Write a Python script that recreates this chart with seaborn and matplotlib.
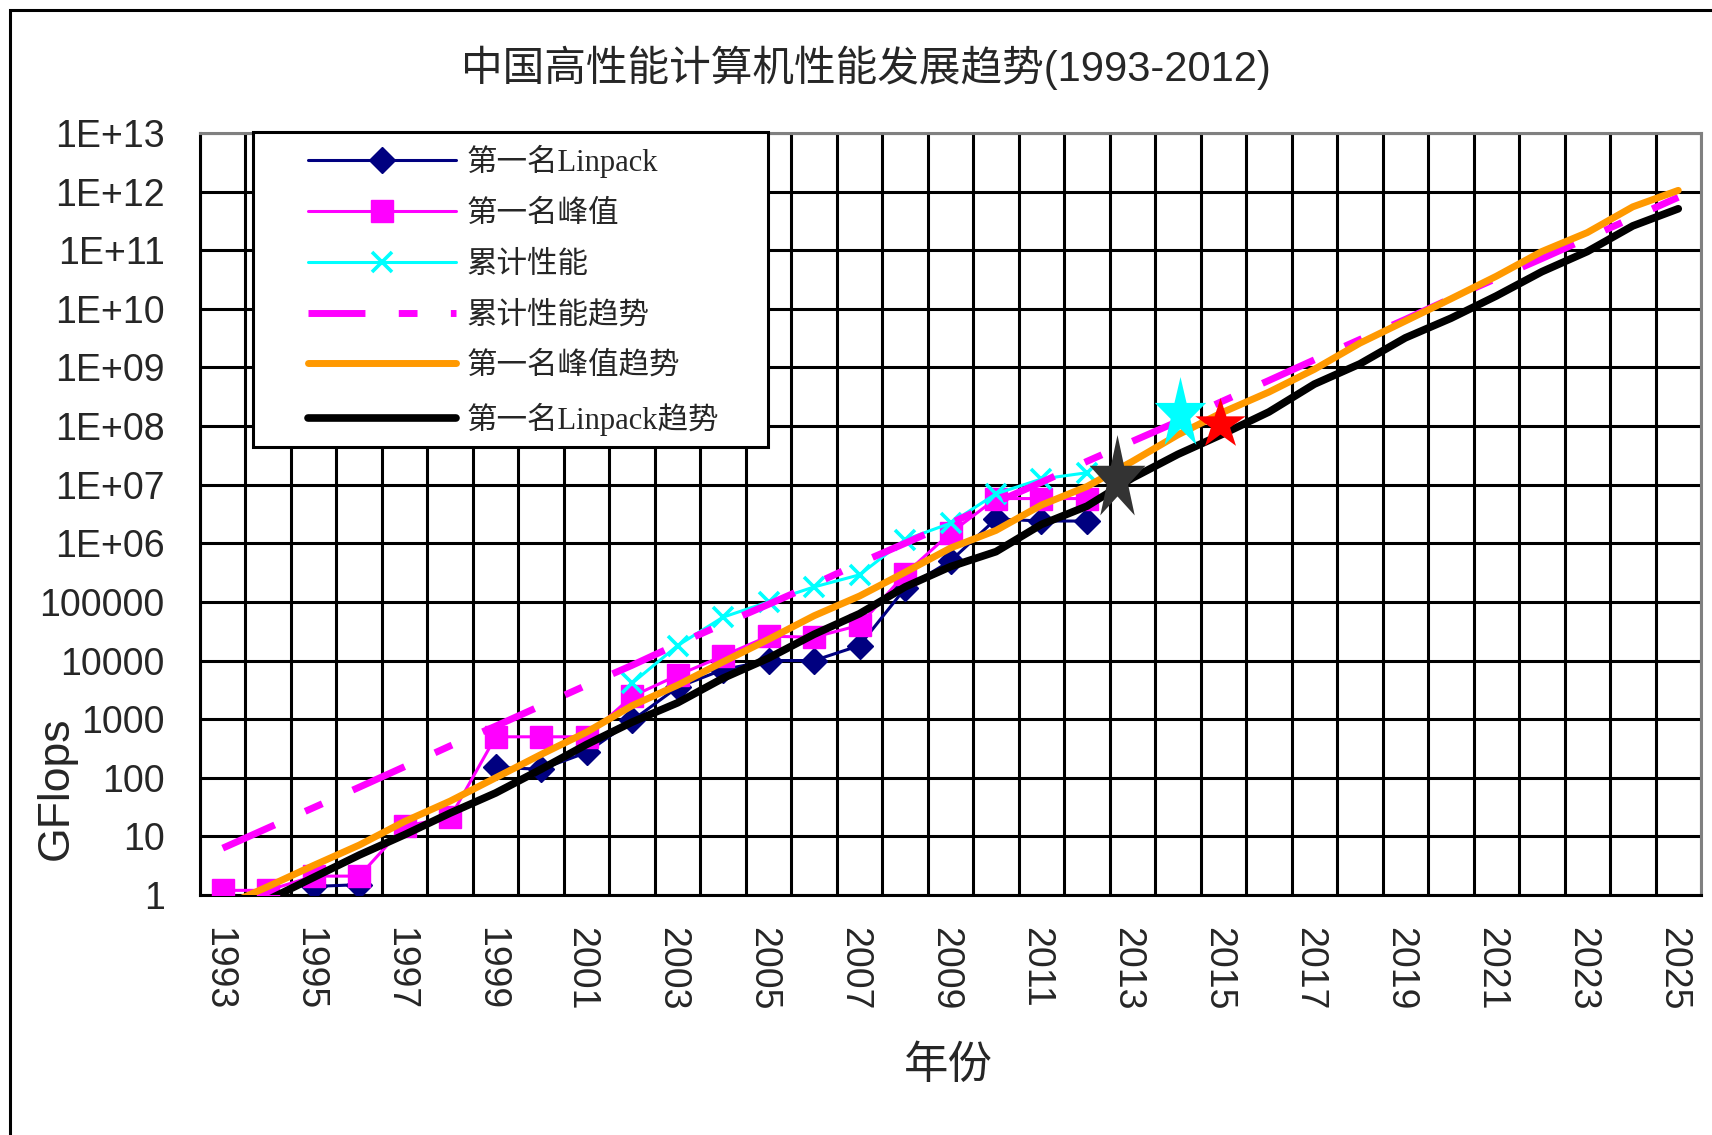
import numpy as np
import pandas as pd
import matplotlib
matplotlib.use("Agg")
import matplotlib.pyplot as plt
import matplotlib.transforms as mtransforms
from matplotlib.lines import Line2D
from matplotlib.patches import Rectangle
from matplotlib.path import Path
from matplotlib.markers import MarkerStyle
from matplotlib.font_manager import FontProperties
import seaborn as sns

nan = np.nan

# ---------------- data ----------------
years = list(range(1993, 2026))
label_years = [str(y) for y in years[::2]]

linpack = [nan, nan, 1.4, 1.5, nan, nan, 150, 140, 270, 950, 3500, 7000,
           10000, 10000, 18000, 1.7e5, 5.0e5, 2.6e6, 2.4e6, 2.4e6] + [nan] * 13
peak = [1.2, 1.2, 2.1, 2.1, 15, 21, 500, 500, 500, 2450, 5600, 12000,
        26000, 25000, 40000, 3.0e5, 1.5e6, 5.8e6, 5.8e6, 5.8e6] + [nan] * 13
cumulative = [nan] * 9 + [4100, 18000, 55000, 1.0e5, 1.8e5, 2.9e5, 1.15e6,
                          2.2e6, 7.0e6, 1.25e7, 1.6e7] + [nan] * 13
cum_trend = [6.3, 14, 31, 69, 155, 350, 760, 1700, 3800, 8300, 1.9e4, 4.2e4,
             9.1e4, 2.0e5, 4.6e5, 1.0e6, 2.2e6, 5.0e6, 1.1e7, 2.5e7, 5.5e7,
             1.2e8, 2.7e8, 6.0e8, 1.35e9, 3.0e9, 6.6e9, 1.5e10, 3.3e10,
             7.2e10, 1.6e11, 3.6e11, 8.0e11]
peak_trend = [0.63, 1.4, 3.2, 7.1, 18, 40, 100, 250, 600, 1700, 3800, 9500,
              23000, 58000, 1.26e5, 3.2e5, 8.3e5, 1.66e6, 4.5e6, 9.3e6, 2.5e7,
              7.1e7, 1.74e8, 3.8e8, 9.3e8, 2.6e9, 6.2e9, 1.48e10, 3.6e10,
              9.5e10, 2.0e11, 5.5e11, 1.05e12]
linpack_trend = [0.4, 0.83, 2.0, 4.8, 10.7, 25, 55, 140, 370, 890, 1900, 5000,
                 11000, 28000, 63000, 1.8e5, 4.0e5, 7.2e5, 2.1e6, 4.3e6, 1.3e7,
                 3.3e7, 7.4e7, 1.74e8, 5.2e8, 1.15e9, 3.2e9, 6.9e9, 1.66e10,
                 4.3e10, 9.5e10, 2.6e11, 5.1e11]

star_years = [2012.65, 2014.04, 2014.92]
star_values = [1.25e7, 1.6e8, 1.1e8]
star_colors = ["#333333", "#00FFFF", "#FF0000"]

ytick_values = [1, 10, 100, 1e3, 1e4, 1e5, 1e6, 1e7, 1e8, 1e9, 1e10, 1e11, 1e12, 1e13]
ytick_labels = ["1", "10", "100", "1000", "10000", "100000", "1E+06", "1E+07",
                "1E+08", "1E+09", "1E+10", "1E+11", "1E+12", "1E+13"]

title = "中国高性能计算机性能发展趋势(1993-2012)"
xlabel = "年份"
ylabel = "GFlops"
series_names = ["第一名Linpack", "第一名峰值", "累计性能", "累计性能趋势",
                "第一名峰值趋势", "第一名Linpack趋势"]

# ---------------- style ----------------
sns.set_style("white")
plt.rcParams["font.family"] = ["Liberation Sans", "Noto Sans CJK SC"]

W, H = 1712, 1135
fig = plt.figure(figsize=(W / 100, H / 100), dpi=100)
ax = fig.add_axes([200 / W, (H - 895) / H, 1501 / W, (895 - 133) / H])


def segments(vals):
    df = pd.DataFrame({"year": years, "value": vals})
    df["seg"] = df["value"].isna().cumsum()
    return df.dropna()


NAVY, MAG, CYAN, ORANGE = "#000080", "#FF00FF", "#00FFFF", "#FF9900"
DASH = (0, (8.2, 4.8, 2.7, 4.8))

sns.lineplot(data=segments(linpack), x="year", y="value", units="seg",
             estimator=None, color=NAVY, lw=2.2, marker="D", markersize=13.5,
             markerfacecolor=NAVY, markeredgecolor=NAVY, markeredgewidth=1,
             ax=ax, zorder=3, legend=False)
sns.lineplot(data=segments(peak), x="year", y="value", units="seg",
             estimator=None, color=MAG, lw=2.2, marker="s", markersize=16,
             markerfacecolor=MAG, markeredgecolor=MAG, markeredgewidth=1,
             ax=ax, zorder=4, legend=False)
sns.lineplot(data=segments(cumulative), x="year", y="value", units="seg",
             estimator=None, color=CYAN, lw=2.2, marker="x", markersize=15,
             markeredgecolor=CYAN, markeredgewidth=2.6,
             ax=ax, zorder=5, legend=False)
sns.lineplot(data=segments(cum_trend), x="year", y="value", units="seg",
             estimator=None, color=MAG, lw=5, linestyle=DASH,
             ax=ax, zorder=6, legend=False)
sns.lineplot(data=segments(peak_trend), x="year", y="value", units="seg",
             estimator=None, color=ORANGE, lw=5,
             ax=ax, zorder=7, legend=False)
sns.lineplot(data=segments(linpack_trend), x="year", y="value", units="seg",
             estimator=None, color="black", lw=5.5,
             ax=ax, zorder=8, legend=False)


def star_marker(squeeze):
    verts = []
    for i in range(10):
        a = np.pi / 2 + i * np.pi / 5
        r = 1.0 if i % 2 == 0 else 0.382
        verts.append((squeeze * r * np.cos(a), r * np.sin(a)))
    verts.append(verts[0])
    codes = [Path.MOVETO] + [Path.LINETO] * 9 + [Path.CLOSEPOLY]
    return MarkerStyle(Path(verts, codes))


star_squeeze = [0.66, 0.72, 1.0]
star_sizes = [64, 54, 38]
for sx, sv, sc, sq, ms in zip(star_years, star_values, star_colors,
                               star_squeeze, star_sizes):
    sns.scatterplot(x=[sx], y=[sv], marker=star_marker(sq), s=ms ** 2,
                    color=sc, edgecolor=sc, linewidth=0, ax=ax, zorder=9,
                    legend=False)

ax.set_yscale("log")
ax.set_ylim(1, 1e13)
ax.set_xlim(1992.5, 2025.5)
ax.set_yticks(ytick_values, ytick_labels, fontsize=27)
ax.minorticks_off()
ax.set_xticks(years[::2], label_years, fontsize=27, rotation=-90)
ax.set_xticks(np.arange(1992.5, 2026, 1.0), minor=True)
ax.tick_params(axis="x", which="major", length=0, pad=23)
ax.tick_params(axis="x", which="minor", length=10, width=2.2, direction="out",
               color="black")
ax.tick_params(axis="y", which="major", length=9.5, width=2.2, direction="out",
               color="black", pad=16)
ax.tick_params(axis="y", which="minor", length=0)
shift = mtransforms.ScaledTranslation(-5 / 100, 0, fig.dpi_scale_trans)
for lab in ax.get_xticklabels():
    lab.set_transform(lab.get_transform() + shift)
ax.set_axisbelow(True)
ax.grid(True, which="minor", axis="x", color="black", lw=2.2)
ax.grid(True, which="major", axis="y", color="black", lw=2.2)
ax.grid(False, which="major", axis="x")
ax.set_xlabel("")
ax.set_ylabel("")
for side in ["left", "bottom"]:
    ax.spines[side].set_color("black")
    ax.spines[side].set_linewidth(2.2)
for side in ["top", "right"]:
    ax.spines[side].set_color("#808080")
    ax.spines[side].set_linewidth(2.2)
    ax.spines[side].set_visible(True)

# texts
fig.text(866 / W, 1 - 68 / H, title, ha="center", va="center", fontsize=30)
fig.text(948 / W, 1 - 1065 / H, xlabel, ha="center", va="center", fontsize=32,
         family=["Noto Sans CJK SC"])
fig.text(56 / W, 1 - 788 / H, ylabel, ha="center", va="center", fontsize=32,
         rotation=90)

# outer chart border
fig.add_artist(Rectangle((10 / W, -0.5), 2.0, 1.5 - 10 / H,
                         transform=fig.transFigure, fill=False,
                         edgecolor="black", lw=2.2, zorder=20))

# legend frame + legend
ax.add_patch(Rectangle((253 / W, 1 - 447 / H), (768 - 253) / W, (447 - 132) / H,
                       transform=fig.transFigure, facecolor="white",
                       edgecolor="black", lw=2.2, zorder=10, clip_on=False))
handles = [
    Line2D([], [], color=NAVY, lw=2.2, marker="D", markersize=13.5,
           markerfacecolor=NAVY, markeredgecolor=NAVY),
    Line2D([], [], color=MAG, lw=2.2, marker="s", markersize=16,
           markerfacecolor=MAG, markeredgecolor=MAG),
    Line2D([], [], color=CYAN, lw=2.2, marker="x", markersize=15,
           markeredgecolor=CYAN, markeredgewidth=2.6),
    Line2D([], [], color=MAG, lw=5, linestyle=DASH),
    Line2D([], [], color=ORANGE, lw=5),
    Line2D([], [], color="black", lw=5.5),
]
leg = ax.legend(handles, series_names, loc="upper left",
                bbox_to_anchor=(308 / W, 1 - 145 / H),
                bbox_transform=fig.transFigure, frameon=False, borderpad=0,
                borderaxespad=0, handlelength=4.85, handletextpad=0.33,
                labelspacing=0.71,
                prop=FontProperties(family=["Liberation Serif", "Noto Sans CJK SC"],
                                    size=22))
leg.set_zorder(11)

fig.savefig("out.png", dpi=100)
